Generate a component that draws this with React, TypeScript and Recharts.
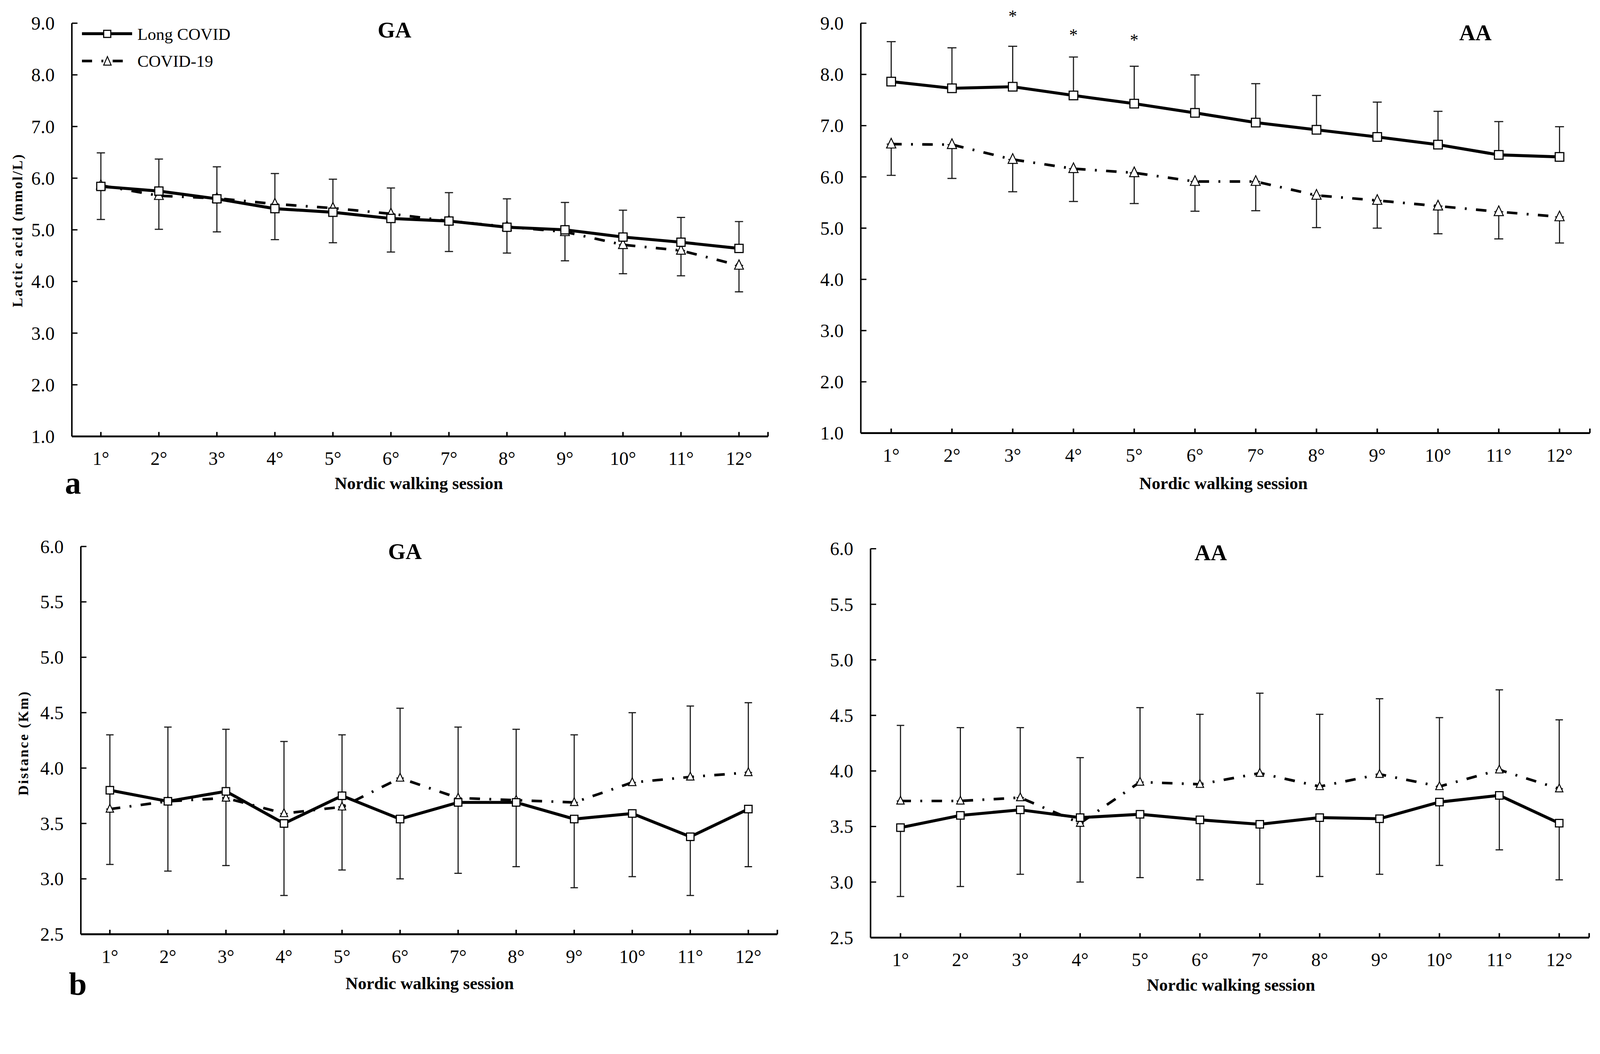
import React from 'react';
import { LineChart, Line, XAxis, YAxis, ErrorBar, ReferenceDot, Legend } from 'recharts';

// ---------- data ----------
const sessions = ['1°', '2°', '3°', '4°', '5°', '6°', '7°', '8°', '9°', '10°', '11°', '12°'];

const lacticTicks = [1, 2, 3, 4, 5, 6, 7, 8, 9];
const distanceTicks = [2.5, 3, 3.5, 4, 4.5, 5, 5.5, 6];

// a) Lactic acid, GA  (Long COVID: +SD, COVID-19: -SD)
const gaLacticLong = [5.84, 5.75, 5.6, 5.41, 5.34, 5.22, 5.17, 5.05, 5.0, 4.86, 4.76, 4.64];
const gaLacticLongSD = [0.65, 0.62, 0.62, 0.68, 0.64, 0.59, 0.55, 0.55, 0.53, 0.52, 0.48, 0.52];
const gaLacticCovid = [5.86, 5.66, 5.61, 5.5, 5.42, 5.31, 5.17, 5.06, 4.96, 4.71, 4.6, 4.31];
const gaLacticCovidSD = [0.66, 0.65, 0.65, 0.69, 0.67, 0.74, 0.59, 0.51, 0.56, 0.56, 0.49, 0.51];

// a) Lactic acid, AA
const aaLacticLong = [7.86, 7.73, 7.76, 7.59, 7.43, 7.25, 7.06, 6.92, 6.78, 6.63, 6.43, 6.39];
const aaLacticLongSD = [0.78, 0.79, 0.79, 0.75, 0.73, 0.74, 0.76, 0.67, 0.68, 0.65, 0.65, 0.59];
const aaLacticCovid = [6.64, 6.63, 6.34, 6.16, 6.08, 5.91, 5.91, 5.64, 5.54, 5.43, 5.32, 5.22];
const aaLacticCovidSD = [0.61, 0.66, 0.63, 0.64, 0.6, 0.58, 0.57, 0.63, 0.54, 0.54, 0.53, 0.51];
const aaLacticStars: (number | null)[] = [null, null, 9.19, 8.82, 8.72, null, null, null, null, null, null, null];

// b) Distance, GA  (COVID-19: +SD, Long COVID: -SD)
const gaDistLong = [3.8, 3.7, 3.79, 3.5, 3.75, 3.54, 3.69, 3.69, 3.54, 3.59, 3.38, 3.63];
const gaDistLongSD = [0.67, 0.63, 0.67, 0.65, 0.67, 0.54, 0.64, 0.58, 0.62, 0.57, 0.53, 0.52];
const gaDistCovid = [3.63, 3.7, 3.73, 3.59, 3.65, 3.91, 3.73, 3.71, 3.69, 3.87, 3.92, 3.96];
const gaDistCovidSD = [0.67, 0.67, 0.62, 0.65, 0.65, 0.63, 0.64, 0.64, 0.61, 0.63, 0.64, 0.63];

// b) Distance, AA
const aaDistLong = [3.49, 3.6, 3.65, 3.58, 3.61, 3.56, 3.52, 3.58, 3.57, 3.72, 3.78, 3.53];
const aaDistLongSD = [0.62, 0.64, 0.58, 0.58, 0.57, 0.54, 0.54, 0.53, 0.5, 0.57, 0.49, 0.51];
const aaDistCovid = [3.73, 3.73, 3.76, 3.53, 3.9, 3.88, 3.98, 3.86, 3.97, 3.86, 4.01, 3.84];
const aaDistCovidSD = [0.68, 0.66, 0.63, 0.59, 0.67, 0.63, 0.72, 0.65, 0.68, 0.62, 0.72, 0.62];

const seriesNames = { long: 'Long COVID', covid: 'COVID-19' };

// ---------- styling ----------
const FONT = '"Liberation Serif", "Times New Roman", serif';
const COVID_DASH = '28 25 5 25';
const PAGE_W = 4275;
const PAGE_H = 2698;

type PanelCfg = {
  left: number; top: number;
  plotL: number; plotR: number; plotT: number; plotB: number;
  domain: [number, number]; ticks: number[];
  long: number[]; longSD: number[]; covid: number[]; covidSD: number[];
  longUp: boolean;
  stars?: (number | null)[];
  sq: number; tri: number; cap: number;
  legend?: boolean;
};

const squareDot = (size: number) => (p: any) => {
  const { cx, cy, index } = p;
  if (cx == null || cy == null) return <g key={`sq-${index}`} />;
  return (
    <rect key={`sq-${index}`} x={cx - size / 2} y={cy - size / 2} width={size} height={size}
      fill="#fff" stroke="#000" strokeWidth={3} />
  );
};

const triDot = (size: number) => (p: any) => {
  const { cx, cy, index } = p;
  if (cx == null || cy == null) return <g key={`tr-${index}`} />;
  const h = size;
  const w = size * 0.95;
  const pts = `${cx},${cy - h * 0.6} ${cx - w / 2},${cy + h * 0.4} ${cx + w / 2},${cy + h * 0.4}`;
  return <polygon key={`tr-${index}`} points={pts} fill="#fff" stroke="#000" strokeWidth={2.5} />;
};

const LegendBox = (props: any) => {
  const payload = props.payload || [];
  const longName = (payload.find((e: any) => e.dataKey === 'long') || {}).value || seriesNames.long;
  const covidName = (payload.find((e: any) => e.dataKey === 'covid') || {}).value || seriesNames.covid;
  return (
    <svg width={700} height={200} style={{ display: 'block' }}>
      <line x1={19} x2={153} y1={50} y2={50} stroke="#000" strokeWidth={8} />
      <rect x={77} y={41} width={19} height={19} fill="#fff" stroke="#000" strokeWidth={3} />
      <text x={167} y={66} fontFamily={FONT} fontSize={45} fill="#000">{longName}</text>
      <line x1={19} x2={129} y1={123} y2={123} stroke="#000" strokeWidth={7} strokeDasharray="27 25 5 25" />
      <polygon points={`87,111 77,134 97,134`} fill="#fff" stroke="#000" strokeWidth={2.5} />
      <text x={167} y={138} fontFamily={FONT} fontSize={45} fill="#000">{covidName}</text>
    </svg>
  );
};

function Panel({ cfg }: { cfg: PanelCfg }) {
  const { left, top, plotL, plotR, plotT, plotB } = cfg;
  const data = sessions.map((s, i) => ({
    session: s,
    long: cfg.long[i],
    covid: cfg.covid[i],
    longSD: cfg.longSD[i],
    covidSD: cfg.covidSD[i],
  }));
  const xH = 160;
  const mr = 20;
  const W = plotR - left + mr;
  const H = plotB - top + xH;
  const yW = plotL - left;
  const mt = plotT - top;
  const band = (plotR - plotL) / sessions.length;

  const xTick = (p: any) => {
    const { x, y, payload, index } = p;
    const axisY = y - 59;
    return (
      <g>
        <line x1={x} x2={x} y1={axisY} y2={axisY - 12} stroke="#000" strokeWidth={4} />
        {index === sessions.length - 1 && (
          <line x1={x + band / 2} x2={x + band / 2} y1={axisY} y2={axisY - 12} stroke="#000" strokeWidth={4} />
        )}
        <text x={x} y={y} dy="0.35em" textAnchor="middle" fontFamily={FONT} fontSize={50} fill="#000">
          {payload.value}
        </text>
      </g>
    );
  };

  const yTick = (p: any) => {
    const { x, y, payload } = p;
    return (
      <g>
        <line x1={x + 46} x2={x + 46 + 15} y1={y} y2={y} stroke="#000" strokeWidth={3.5} />
        <text x={x} y={y} dy="0.35em" textAnchor="end" fontFamily={FONT} fontSize={50} fill="#000">
          {Number(payload.value).toFixed(1)}
        </text>
      </g>
    );
  };

  const longErr = cfg.longUp ? (d: any) => [0, d.longSD] : (d: any) => [d.longSD, 0];
  const covidErr = cfg.longUp ? (d: any) => [d.covidSD, 0] : (d: any) => [0, d.covidSD];

  return (
    <div style={{ position: 'absolute', left, top, width: W, height: H }}>
      <LineChart width={W} height={H} data={data} margin={{ top: mt, right: mr, left: 0, bottom: 0 }}>
        <XAxis
          dataKey="session"
          padding={{ left: band / 2, right: band / 2 }}
          interval={0}
          tickSize={0}
          tickMargin={59}
          tick={xTick}
          tickLine={false}
          axisLine={{ stroke: '#000', strokeWidth: 5 }}
          height={xH}
        />
        <YAxis
          type="number"
          domain={cfg.domain}
          ticks={cfg.ticks}
          interval={0}
          width={yW}
          tickSize={0}
          tickMargin={46}
          tick={yTick}
          tickLine={false}
          axisLine={{ stroke: '#000', strokeWidth: 4 }}
        />
        {cfg.stars &&
          cfg.stars.map((v, i) =>
            v == null ? null : (
              <ReferenceDot
                key={`star-${i}`}
                x={sessions[i]}
                y={v}
                ifOverflow="visible"
                shape={(sp: any) => (
                  <text x={sp.cx} y={sp.cy + 22} textAnchor="middle" fontFamily={FONT} fontSize={46} fill="#000">
                    *
                  </text>
                )}
              />
            )
          )}
        <Line
          type="linear"
          dataKey="covid"
          name={seriesNames.covid}
          stroke="#000"
          strokeWidth={7}
          strokeDasharray={COVID_DASH}
          dot={triDot(cfg.tri)}
          activeDot={false}
          isAnimationActive={false}
        >
          <ErrorBar dataKey={covidErr} width={cfg.cap} stroke="#1a1a1a" strokeWidth={3} direction="y" />
        </Line>
        <Line
          type="linear"
          dataKey="long"
          name={seriesNames.long}
          stroke="#000"
          strokeWidth={8}
          dot={squareDot(cfg.sq)}
          activeDot={false}
          isAnimationActive={false}
        >
          <ErrorBar dataKey={longErr} width={cfg.cap} stroke="#1a1a1a" strokeWidth={3} direction="y" />
        </Line>
        {cfg.legend && (
          <Legend
            verticalAlign="middle"
            align="center"
            layout="horizontal"
            wrapperStyle={{ left: 200, top: 40, width: 700, height: 200 }}
            content={LegendBox}
          />
        )}
      </LineChart>
    </div>
  );
}

const panels: PanelCfg[] = [
  {
    left: 0, top: 0, plotL: 192, plotR: 2052, plotT: 62, plotB: 1166,
    domain: [1, 9], ticks: lacticTicks,
    long: gaLacticLong, longSD: gaLacticLongSD, covid: gaLacticCovid, covidSD: gaLacticCovidSD,
    longUp: true, sq: 22, tri: 25, cap: 11, legend: true,
  },
  {
    left: 2140, top: 0, plotL: 2300, plotR: 4248, plotT: 62, plotB: 1157,
    domain: [1, 9], ticks: lacticTicks,
    long: aaLacticLong, longSD: aaLacticLongSD, covid: aaLacticCovid, covidSD: aaLacticCovidSD,
    longUp: true, stars: aaLacticStars, sq: 23, tri: 26, cap: 12,
  },
  {
    left: 0, top: 1340, plotL: 216, plotR: 2077, plotT: 1460, plotB: 2496,
    domain: [2.5, 6], ticks: distanceTicks,
    long: gaDistLong, longSD: gaDistLongSD, covid: gaDistCovid, covidSD: gaDistCovidSD,
    longUp: false, sq: 20, tri: 21, cap: 10,
  },
  {
    left: 2140, top: 1340, plotL: 2326, plotR: 4246, plotT: 1466, plotB: 2505,
    domain: [2.5, 6], ticks: distanceTicks,
    long: aaDistLong, longSD: aaDistLongSD, covid: aaDistCovid, covidSD: aaDistCovidSD,
    longUp: false, sq: 20, tri: 21, cap: 10,
  },
];

const Txt = ({ x, y, size, bold, rotate, spacing, children }: any) => (
  <div
    style={{
      position: 'absolute',
      left: x,
      top: y,
      transform: `translate(-50%, -50%)${rotate ? ` rotate(${rotate}deg)` : ''}`,
      fontFamily: FONT,
      fontSize: size,
      fontWeight: bold ? 700 : 400,
      letterSpacing: spacing || 0,
      whiteSpace: 'nowrap',
      lineHeight: 1,
      color: '#000',
    }}
  >
    {children}
  </div>
);

export default function App() {
  const vw = typeof window !== 'undefined' ? window.innerWidth : PAGE_W;
  const vh = typeof window !== 'undefined' ? window.innerHeight : PAGE_H;
  const s = Math.min(vw / PAGE_W, vh / PAGE_H, 1);
  return (
    <div style={{ position: 'fixed', left: 0, top: 0, right: 0, bottom: 0, overflow: 'hidden', background: '#fff' }}>
      <div
        style={{
          position: 'absolute',
          left: 0,
          top: 0,
          width: PAGE_W,
          height: PAGE_H,
          background: '#fff',
          transform: `scale(${s})`,
          transformOrigin: '0 0',
        }}
      >
        {panels.map((p, i) => (
          <Panel key={i} cfg={p} />
        ))}
        <Txt x={1054} y={80} size={60} bold>GA</Txt>
        <Txt x={3942} y={88} size={60} bold>AA</Txt>
        <Txt x={1082} y={1474} size={60} bold>GA</Txt>
        <Txt x={3235} y={1477} size={60} bold>AA</Txt>

        <Txt x={1119} y={1292} size={46} bold>Nordic walking session</Txt>
        <Txt x={3269} y={1292} size={46} bold>Nordic walking session</Txt>
        <Txt x={1148} y={2628} size={46} bold>Nordic walking session</Txt>
        <Txt x={3289} y={2632} size={46} bold>Nordic walking session</Txt>

        <Txt x={46} y={615} size={38} bold rotate={-90} spacing={3.5}>Lactic acid (mmol/L)</Txt>
        <Txt x={62} y={1985} size={38} bold rotate={-90} spacing={3.5}>Distance (Km)</Txt>

        <Txt x={195} y={1290} size={86} bold>a</Txt>
        <Txt x={208} y={2628} size={86} bold>b</Txt>
      </div>
    </div>
  );
}
